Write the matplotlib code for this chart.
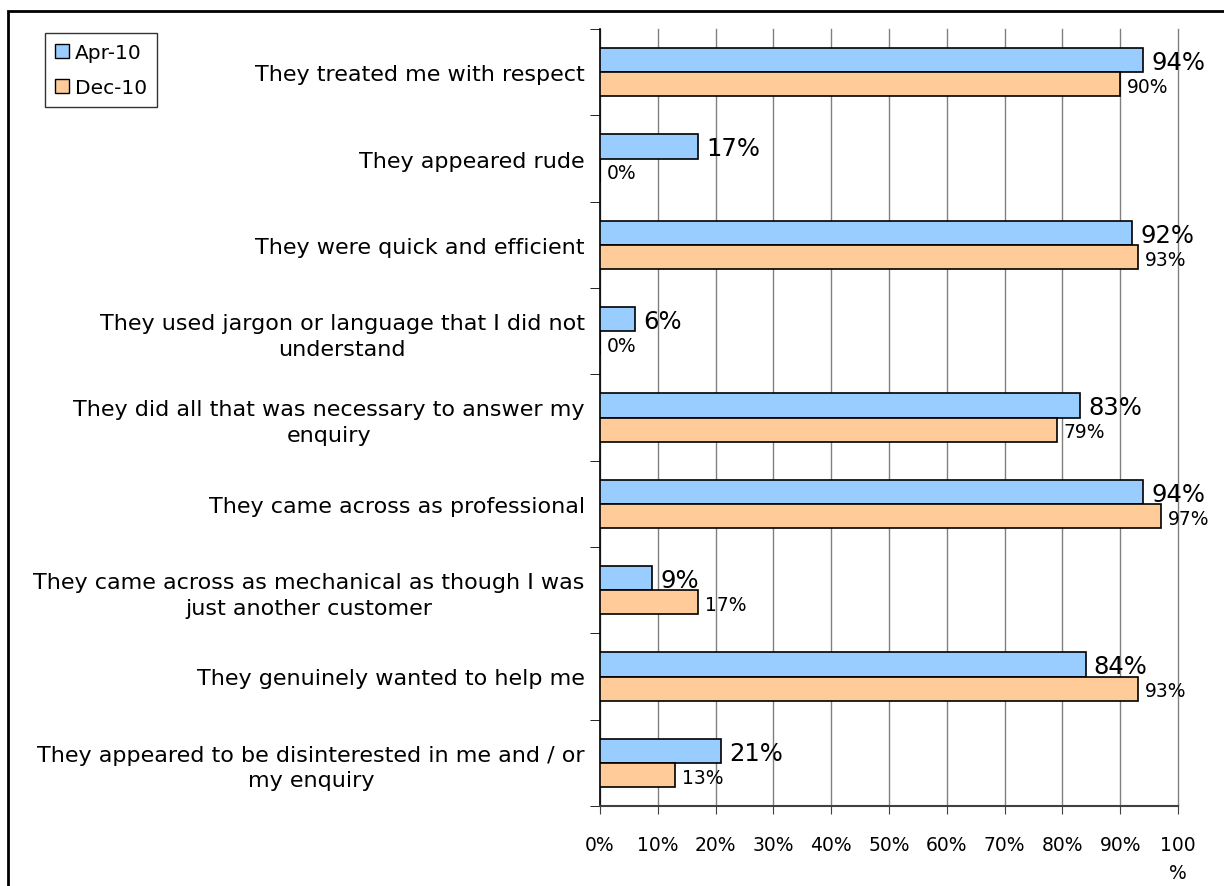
import matplotlib
matplotlib.use("Agg")
import matplotlib.pyplot as plt
import numpy as np
from matplotlib.patches import Rectangle, Patch

categories = [
    "They treated me with respect",
    "They appeared rude",
    "They were quick and efficient",
    "They used jargon or language that I did not\nunderstand",
    "They did all that was necessary to answer my\nenquiry",
    "They came across as professional",
    "They came across as mechanical as though I was\njust another customer",
    "They genuinely wanted to help me",
    "They appeared to be disinterested in me and / or\nmy enquiry",
]
apr_10 = [94, 17, 92, 6, 83, 94, 9, 84, 21]
dec_10 = [90, 0, 93, 0, 79, 97, 17, 93, 13]
x_ticks = [0, 10, 20, 30, 40, 50, 60, 70, 80, 90, 100]
x_labels = ["0%", "10%", "20%", "30%", "40%", "50%", "60%", "70%", "80%", "90%", "100\n%"]

plt.rcParams["font.family"] = ["DejaVu Sans"]

W, H = 1224, 887
fig = plt.figure(figsize=(W / 100, H / 100), dpi=100)
ax = fig.add_axes([600 / W, 1 - 807 / H, 578 / W, 777 / H])

blue = "#99CCFF"
orange = "#FFCC99"
bh = 0.28
y = np.arange(len(categories))

ax.barh(y - bh / 2, apr_10, height=bh, color=blue, edgecolor="black", linewidth=1.2, zorder=3)
ax.barh(y + bh / 2, dec_10, height=bh, color=orange, edgecolor="black", linewidth=1.2, zorder=3)

# value labels: big for Apr-10, smaller for Dec-10
for i in range(len(categories)):
    ax.annotate(f"{apr_10[i]}%", (apr_10[i], y[i] - bh / 2), xytext=(6, -1.5),
                textcoords="offset points", va="center", ha="left", fontsize=17.5, zorder=4)
    ax.annotate(f"{dec_10[i]}%", (dec_10[i], y[i] + bh / 2), xytext=(5, -1.5),
                textcoords="offset points", va="center", ha="left", fontsize=13.5, zorder=4)

ax.set_ylim(len(categories) - 0.5, -0.5)
ax.set_xlim(0, 100)

ax.set_yticks(y)
ax.set_yticklabels(categories, fontsize=16, ma="center", linespacing=1.35)
ax.set_yticks(np.arange(len(categories) + 1) - 0.5, minor=True)
ax.tick_params(axis="y", which="major", length=0, pad=11)
ax.tick_params(axis="y", which="minor", length=7, color="black", direction="out")

ax.set_xticks(x_ticks)
ax.set_xticklabels(x_labels, fontsize=13.5, ma="center", va="top", linespacing=1.6)
ax.tick_params(axis="x", length=6, direction="out", pad=15, color="#404040")

ax.grid(axis="x", color="#808080", linewidth=1, zorder=0)
for gl in ax.get_xgridlines():
    gl.set_clip_on(False)
for s in ["top", "right"]:
    ax.spines[s].set_visible(False)
ax.spines["left"].set_color("black")
ax.spines["left"].set_linewidth(1.2)
ax.spines["bottom"].set_color("#404040")
ax.spines["bottom"].set_linewidth(1.5)

handles = [Patch(facecolor=blue, edgecolor="black", label="Apr-10"),
           Patch(facecolor=orange, edgecolor="black", label="Dec-10")]
leg = fig.legend(handles=handles, loc="upper left", bbox_to_anchor=(45 / W, 1 - 34 / H),
                 fontsize=14.5, frameon=True, fancybox=False, edgecolor="black",
                 handlelength=0.7, handleheight=0.7, handletextpad=0.3,
                 borderpad=0.5, labelspacing=0.8, borderaxespad=0)
leg.get_frame().set_linewidth(1)

# outer chart border
fig.patches.append(Rectangle((8 / W, -0.05), 1.1, 1 - 12 / H + 0.05, transform=fig.transFigure,
                             fill=False, edgecolor="black", linewidth=2))

fig.savefig("out.png", dpi=100)
